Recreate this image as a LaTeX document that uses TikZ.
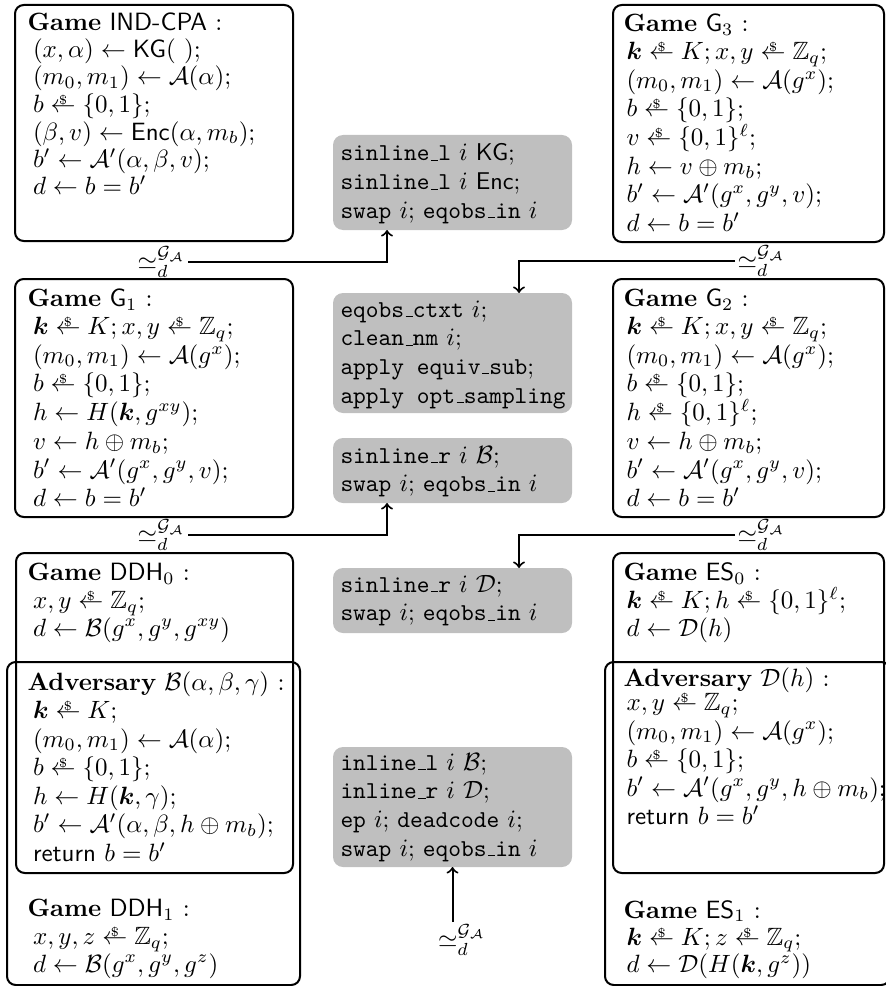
\documentclass[tikz,border=0pt]{standalone}
\usepackage{amsmath,amssymb}
\usetikzlibrary{calc}
\newcommand{\smp}{\mathrel{\ooalign{$\leftarrow$\cr\hidewidth\raisebox{3.2pt}{$\scriptscriptstyle\$$}\hidewidth\cr}}}
\newcommand{\sdeq}{\simeq_d^{\mathcal{G}_{\mathcal{A}}}}
\newcommand{\us}{\kern.06em\vbox{\hrule width.3em}}
% #1 name, #2 title x, #3 body x, #4 title baseline, #5 first body baseline, #6 row step, #7 title, #8 body lines
\newcommand{\gblock}[8]{%
  \node[ln] (#1-0) at (#2,#4) {#7};
  \foreach \t [count=\i from 1] in {#8} {\node[ln] (#1-\i) at (#3,{#5+#6*(\i-1)}) {\t};}%
}
% #1 name, #2 first baseline, #3 lines
\newcommand{\tblock}[3]{%
  \foreach \t [count=\i from 1] in {#3} {\node[tac] (#1-\i) at (340,{#2+28.7*(\i-1)}) {\t};}%
}
\begin{document}
\begin{tikzpicture}[x=0.4pt,y=-0.4pt,
  gbox/.style={draw, line width=0.8pt, rounded corners=3.5pt, anchor=north west, inner sep=0pt, outer sep=0pt},
  ln/.style={anchor=base west, inner sep=0pt},
  tac/.style={anchor=base west, inner sep=0pt, font=\fontsize{9.7}{11.6}\selectfont},
  graybox/.style={fill=gray!50, rounded corners=4pt, anchor=north west, inner sep=0pt, outer sep=0pt, minimum width=95.6pt},
  lab/.style={inner sep=0.8pt},
  conn/.style={->, line width=0.8pt}]
\useasboundingbox (0,0) rectangle (886,986);

% game boxes
\node[gbox, minimum width=111.2pt, minimum height=94.4pt] (bind) at (15,5) {};
\node[gbox, minimum width=108.4pt, minimum height=94.8pt] (bg3) at (613,5) {};
\node[gbox, minimum width=111.2pt, minimum height=95.2pt] (bg1) at (15,279) {};
\node[gbox, minimum width=108.4pt, minimum height=95.2pt] (bg2) at (613,279) {};
\node[gbox, minimum width=110.8pt, minimum height=128pt] (bddha) at (16,553) {};
\node[gbox, minimum width=117.2pt, minimum height=129.2pt] (bddhb) at (7,662) {};
\node[gbox, minimum width=108.4pt, minimum height=128pt] (besa) at (613,553) {};
\node[gbox, minimum width=114pt, minimum height=129.2pt] (besb) at (605,662) {};

% game texts
\gblock{ind}{27}{32.5}{30.5}{57.5}{27.5}{\textbf{Game} \textsf{IND-CPA} :}{%
 {$(x,\alpha)\leftarrow\mathsf{KG}(\ );$},
 {$(m_0,m_1)\leftarrow\mathcal{A}(\alpha);$},
 {$b\smp\{0,1\};$},
 {$(\beta,v)\leftarrow\mathsf{Enc}(\alpha,m_b);$},
 {$b'\leftarrow\mathcal{A}'(\alpha,\beta,v);$},
 {$d\leftarrow b=b'$}}

\gblock{gg3}{623}{626}{31.5}{59.5}{28.7}{\textbf{Game} $\mathsf{G}_3$ :}{%
 {$\boldsymbol{k}\smp K; x,y\smp\mathbb{Z}_q;$},
 {$(m_0,m_1)\leftarrow\mathcal{A}(g^x);$},
 {$b\smp\{0,1\};$},
 {$v\smp\{0,1\}^\ell;$},
 {$h\leftarrow v\oplus m_b;$},
 {$b'\leftarrow\mathcal{A}'(g^x,g^y,v);$},
 {$d\leftarrow b=b'$}}

\gblock{gg1}{27}{32.5}{306.5}{334.5}{28.7}{\textbf{Game} $\mathsf{G}_1$ :}{%
 {$\boldsymbol{k}\smp K; x,y\smp\mathbb{Z}_q;$},
 {$(m_0,m_1)\leftarrow\mathcal{A}(g^x);$},
 {$b\smp\{0,1\};$},
 {$h\leftarrow H(\boldsymbol{k},g^{xy});$},
 {$v\leftarrow h\oplus m_b;$},
 {$b'\leftarrow\mathcal{A}'(g^x,g^y,v);$},
 {$d\leftarrow b=b'$}}

\gblock{gg2}{623}{626}{306.5}{334.5}{28.7}{\textbf{Game} $\mathsf{G}_2$ :}{%
 {$\boldsymbol{k}\smp K; x,y\smp\mathbb{Z}_q;$},
 {$(m_0,m_1)\leftarrow\mathcal{A}(g^x);$},
 {$b\smp\{0,1\};$},
 {$h\smp\{0,1\}^\ell;$},
 {$v\leftarrow h\oplus m_b;$},
 {$b'\leftarrow\mathcal{A}'(g^x,g^y,v);$},
 {$d\leftarrow b=b'$}}

\gblock{ddh0}{27}{32.5}{580.5}{608.5}{27.5}{\textbf{Game} $\mathsf{DDH}_0$ :}{%
 {$x,y\smp\mathbb{Z}_q;$},
 {$d\leftarrow\mathcal{B}(g^x,g^y,g^{xy})$}}

\gblock{advb}{27}{32.5}{690.5}{718.5}{28.6}{\textbf{Adversary} $\mathcal{B}(\alpha,\beta,\gamma)$ :}{%
 {$\boldsymbol{k}\smp K;$},
 {$(m_0,m_1)\leftarrow\mathcal{A}(\alpha);$},
 {$b\smp\{0,1\};$},
 {$h\leftarrow H(\boldsymbol{k},\gamma);$},
 {$b'\leftarrow\mathcal{A}'(\alpha,\beta,h\oplus m_b);$},
 {\textsf{return} $b=b'$}}

\gblock{ddh1}{27}{32.5}{916.5}{944.5}{27.5}{\textbf{Game} $\mathsf{DDH}_1$ :}{%
 {$x,y,z\smp\mathbb{Z}_q;$},
 {$d\leftarrow\mathcal{B}(g^x,g^y,g^z)$}}

\gblock{es0}{623}{626}{580.5}{608.5}{28}{\textbf{Game} $\mathsf{ES}_0$ :}{%
 {$\boldsymbol{k}\smp K; h\smp\{0,1\}^\ell;$},
 {$d\leftarrow\mathcal{D}(h)$}}

\gblock{advd}{623}{626}{686.5}{710.5}{28.5}{\textbf{Adversary} $\mathcal{D}(h)$ :}{%
 {$x,y\smp\mathbb{Z}_q;$},
 {$(m_0,m_1)\leftarrow\mathcal{A}(g^x);$},
 {$b\smp\{0,1\};$},
 {$b'\leftarrow\mathcal{A}'(g^x,g^y,h\oplus m_b);$},
 {\textsf{return} $b=b'$}}

\gblock{es1}{623}{626}{918}{945}{27.5}{\textbf{Game} $\mathsf{ES}_1$ :}{%
 {$\boldsymbol{k}\smp K; z\smp\mathbb{Z}_q;$},
 {$d\leftarrow\mathcal{D}(H(\boldsymbol{k},g^z))$}}

% gray tactic boxes
\node[graybox, minimum height=38pt] (g1) at (333,135) {};
\node[graybox, minimum height=48pt] (g2) at (333,293) {};
\node[graybox, minimum height=26pt] (g3) at (333,438) {};
\node[graybox, minimum height=26pt] (g4) at (333,568) {};
\node[graybox, minimum height=48pt] (g5) at (333,747) {};

\tblock{t1}{161}{%
 {\texttt{sinline\us l} $i$ \textsf{KG};},
 {\texttt{sinline\us l} $i$ \textsf{Enc};},
 {\texttt{swap} $i$; \texttt{eqobs\us in} $i$}}
\tblock{t2}{317}{%
 {\texttt{eqobs\us ctxt} $i$;},
 {\texttt{clean\us nm} $i$;},
 {\texttt{apply equiv\us sub};},
 {\texttt{apply opt\us sampling}}}
\tblock{t3}{463}{%
 {\texttt{sinline\us r} $i$ $\mathcal{B}$;},
 {\texttt{swap} $i$; \texttt{eqobs\us in} $i$}}
\tblock{t4}{592}{%
 {\texttt{sinline\us r} $i$ $\mathcal{D}$;},
 {\texttt{swap} $i$; \texttt{eqobs\us in} $i$}}
\tblock{t5}{770}{%
 {\texttt{inline\us l} $i$ $\mathcal{B}$;},
 {\texttt{inline\us r} $i$ $\mathcal{D}$;},
 {\texttt{ep} $i$; \texttt{deadcode} $i$;},
 {\texttt{swap} $i$; \texttt{eqobs\us in} $i$}}

% labels
\node[lab, anchor=east] (l1) at (188,262) {$\sdeq$};
\node[lab, anchor=west] (l2) at (735,261) {$\sdeq$};
\node[lab, anchor=east] (l3) at (188,535) {$\sdeq$};
\node[lab, anchor=west] (l4) at (735,535) {$\sdeq$};
\node[lab, anchor=north] (l5) at (462,922) {$\sdeq$};

% connectors
\draw[conn] (l1.east) -| ($(g1.south west)+(54,0)$);
\draw[conn] (l2.west) -| ($(g2.north west)+(186,0)$);
\draw[conn] (l3.east) -| ($(g3.south west)+(54,0)$);
\draw[conn] (l4.west) -| ($(g4.north west)+(186,0)$);
\draw[conn] (l5.north -| g5.south) -- (g5.south);
\end{tikzpicture}
\end{document}
